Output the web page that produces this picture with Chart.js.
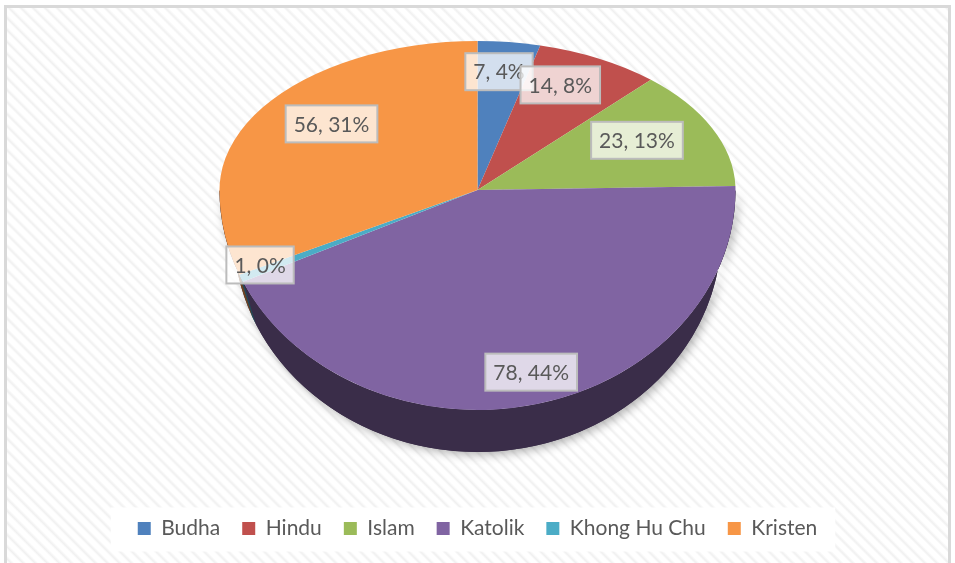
<!DOCTYPE html>
<html>
<head>
<meta charset="utf-8">
<script src="https://cdn.jsdelivr.net/npm/chart.js@4.4.0/dist/chart.umd.min.js"></script>
<style>
  html, body { margin: 0; padding: 0; }
  body { width: 955px; height: 563px; overflow: hidden; position: relative; background: #fff; }
  /* striped chart background with light grey frame */
  #frame {
    position: absolute; left: 4px; top: 5px; width: 941px; height: 570px;
    border: 3px solid #d9d9d9;
    background: repeating-linear-gradient(45deg, #ffffff 0px, #ffffff 3px, #f0f0f0 5px, #ffffff 7.5px, #ffffff 8.5px);
  }
  #wrap { position: absolute; left: 0; top: 0; width: 955px; height: 563px; }
</style>
</head>
<body>
<div id="frame"></div>
<div id="wrap"><canvas id="religionChart"></canvas></div>
<script>
  // data
  const religions = ['Budha', 'Hindu', 'Islam', 'Katolik', 'Khong Hu Chu', 'Kristen'];
  const counts = [7, 14, 23, 78, 1, 56];
  const percents = [4, 8, 13, 44, 0, 31];
  const sliceColors = ['#4f81bd', '#c0504d', '#9bbb59', '#8064a2', '#4bacc6', '#f79646'];

  // darken a hex colour for the side of the 3d pie
  function darken(hex, f) {
    const n = parseInt(hex.slice(1), 16);
    const r = Math.round(((n >> 16) & 255) * f);
    const g = Math.round(((n >> 8) & 255) * f);
    const b = Math.round((n & 255) * f);
    return `rgb(${r},${g},${b})`;
  }

  // fake 3d look: squash the pie into an ellipse (flatter at the back) and add a side wall
  const pie3d = {
    id: 'pie3d',
    geom(chart, opts) {
      const el = chart.getDatasetMeta(0).data[0];
      return {
        el, R: el.outerRadius,
        cx: el.x, cy: opts.centerY,
        rx: opts.radiusX, ryT: opts.topRadiusY, ryB: opts.bottomRadiusY
      };
    },
    beforeDraw(chart, args, opts) {
      // white box behind the legend
      const lg = chart.legend;
      if (!lg || !lg.legendHitBoxes || !lg.legendHitBoxes.length) return;
      const hb = lg.legendHitBoxes;
      const left = Math.min(...hb.map(b => b.left)) - opts.legendPadLeft;
      const right = Math.max(...hb.map(b => b.left + b.width)) + opts.legendPadRight;
      const midY = hb[0].top + hb[0].height / 2;
      const ctx = chart.ctx;
      ctx.save();
      ctx.fillStyle = '#ffffff';
      ctx.fillRect(left, midY - 21, right - left, 44);
      ctx.restore();
    },
    beforeDatasetsDraw(chart, args, opts) {
      const ctx = chart.ctx;
      const meta = chart.getDatasetMeta(0);
      const g = this.geom(chart, opts);
      const depth = opts.depth;
      const rxLow = g.rx - opts.wallInset; // bottom rim a bit narrower, hides the wall at the sides

      const wallPath = (a0, a1) => {
        ctx.beginPath();
        ctx.ellipse(g.cx, g.cy, g.rx, g.ryB, 0, a0, a1);
        ctx.ellipse(g.cx, g.cy + depth, rxLow, g.ryB, 0, a1, a0, true);
        ctx.closePath();
      };

      // wall shadow
      ctx.save();
      ctx.shadowColor = 'rgba(0,0,0,0.3)';
      ctx.shadowBlur = 10;
      ctx.shadowOffsetX = 3;
      ctx.shadowOffsetY = 3;
      wallPath(0, Math.PI);
      ctx.fillStyle = '#3a2d49';
      ctx.fill();
      ctx.restore();

      // wall per slice (only the front half shows)
      meta.data.forEach((arc, i) => {
        const p = arc.getProps(['startAngle', 'endAngle'], true);
        const a0 = Math.max(p.startAngle, 0);
        const a1 = Math.min(p.endAngle, Math.PI);
        if (a1 <= a0) return;
        wallPath(a0, a1);
        ctx.fillStyle = darken(sliceColors[i], 0.45);
        ctx.fill();
      });

      // top face: back half and front half with different vertical squash
      const halves = [
        [0, g.cy, g.ryT / g.R],
        [g.cy, chart.height, g.ryB / g.R]
      ];
      halves.forEach(([y0, y1, sy]) => {
        ctx.save();
        ctx.beginPath();
        ctx.rect(0, y0, chart.width, y1 - y0);
        ctx.clip();
        ctx.translate(g.cx, g.cy);
        ctx.scale(g.rx / g.R, sy);
        ctx.translate(-g.el.x, -g.el.y);
        meta.data.forEach(arc => arc.draw(ctx, chart.chartArea));
        ctx.restore();
      });
      return false;
    },
    afterDraw(chart, args, opts) {
      // data labels "value, percent%"
      const ctx = chart.ctx;
      const meta = chart.getDatasetMeta(0);
      const g = this.geom(chart, opts);
      ctx.save();
      ctx.font = '21px Lato';
      ctx.textAlign = 'center';
      ctx.textBaseline = 'middle';
      const h = 37;
      let prev = null;
      meta.data.forEach((arc, i) => {
        const p = arc.getProps(['startAngle', 'endAngle'], true);
        const mid = (p.startAngle + p.endAngle) / 2;
        const front = Math.sin(mid) > 0;
        const ry = front ? g.ryB : g.ryT;
        const fx = front ? opts.labelFxFront : opts.labelFxBack;
        const fy = front ? opts.labelFyFront : opts.labelFyBack;
        let x = g.cx + Math.cos(mid) * g.rx * fx;
        const y = g.cy + Math.sin(mid) * ry * fy;
        const text = `${counts[i]}, ${percents[i]}%`;
        const w = ctx.measureText(text).width + 16;
        // nudge right when it sits too far over the previous label
        if (prev && Math.abs(prev.y - y) < h && x - w / 2 < prev.right - opts.maxOverlap && x > prev.x) {
          x = prev.right - opts.maxOverlap + w / 2;
        }
        ctx.fillStyle = 'rgba(255,255,255,0.75)';
        ctx.fillRect(x - w / 2, y - h / 2, w, h);
        ctx.strokeStyle = '#bcbcbc';
        ctx.lineWidth = 2;
        ctx.strokeRect(x - w / 2, y - h / 2, w, h);
        ctx.fillStyle = '#595959';
        ctx.fillText(text, x, y + 1);
        prev = { x, y, right: x + w / 2 };
      });
      ctx.restore();
    }
  };

  const ctx = document.getElementById('religionChart').getContext('2d');
  new Chart(ctx, {
    type: 'pie',
    data: {
      labels: religions,
      datasets: [{
        data: counts,
        backgroundColor: sliceColors,
        borderWidth: 0
      }]
    },
    options: {
      responsive: true,
      maintainAspectRatio: false,
      animation: false,
      layout: { padding: { top: 20, bottom: 14 } },
      plugins: {
        legend: {
          position: 'bottom',
          labels: {
            boxWidth: 13,
            boxHeight: 13,
            padding: 22,
            color: '#595959',
            font: { family: 'Lato', size: 21 }
          }
        },
        tooltip: { enabled: false },
        pie3d: {
          centerY: 190,
          radiusX: 258,
          topRadiusY: 149,
          bottomRadiusY: 220,
          depth: 42,
          wallInset: 14,
          labelFxBack: 0.68,
          labelFyBack: 0.8,
          labelFxFront: 0.92,
          labelFyFront: 0.85,
          maxOverlap: 14,
          legendPadLeft: 27,
          legendPadRight: 18
        }
      }
    },
    plugins: [pie3d]
  });
</script>
</body>
</html>
